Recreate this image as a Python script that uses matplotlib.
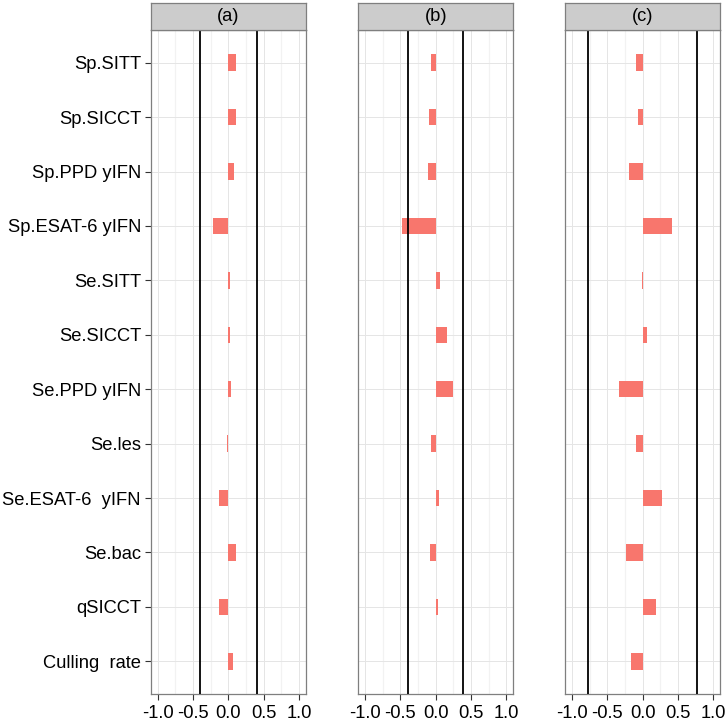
import matplotlib
matplotlib.use('Agg')
import matplotlib.pyplot as plt
import numpy as np

plt.rcParams['font.family'] = ['Liberation Sans', 'DejaVu Sans']
plt.rcParams['axes.unicode_minus'] = False

# parameters, listed from top to bottom
categories = ['Sp.SITT', 'Sp.SICCT', 'Sp.PPD yIFN', 'Sp.ESAT-6 yIFN', 'Se.SITT',
              'Se.SICCT', 'Se.PPD yIFN', 'Se.les', 'Se.ESAT-6  yIFN', 'Se.bac',
              'qSICCT', 'Culling  rate']

panel_names = ['(a)', '(b)', '(c)']

values_a = [0.11, 0.11, 0.075, -0.21, 0.024, 0.028, 0.043, -0.012, -0.135, 0.113, -0.13, 0.061]
values_b = [-0.06, -0.095, -0.11, -0.48, 0.066, 0.156, 0.246, -0.066, 0.047, -0.08, 0.038, 0.0]
values_c = [-0.095, -0.06, -0.19, 0.41, -0.012, 0.066, -0.34, -0.10, 0.274, -0.236, 0.19, -0.17]

# thresholds drawn as vertical black lines in each panel
thresholds = [(-0.40, 0.40), (-0.39, 0.38), (-0.77, 0.77)]

x_ticks = [-1.0, -0.5, 0.0, 0.5, 1.0]
x_minor = [-0.75, -0.25, 0.25, 0.75]

fig_w, fig_h = 728, 725
fig = plt.figure(figsize=(fig_w / 100., fig_h / 100.), dpi=100)

panel_left_px = [150.7, 358.1, 565.1]
panel_width_px = 155.2
panel_top_px = 30.
panel_bottom_px = 694.
strip_top_px = 3.3

font_size = 13.2

all_values = [values_a, values_b, values_c]
y_pos = np.arange(len(categories))

for pdx in range(3):
    left = panel_left_px[pdx] / fig_w
    width = panel_width_px / fig_w
    bottom = (fig_h - panel_bottom_px) / fig_h
    height = (panel_bottom_px - panel_top_px) / fig_h

    ax = fig.add_axes([left, bottom, width, height])
    ax.set_facecolor('white')

    # grid
    for xm in x_minor:
        ax.axvline(xm, color='#F2F2F2', lw=0.9, zorder=0)
    for xt in x_ticks:
        ax.axvline(xt, color='#E5E5E5', lw=0.7, zorder=0)
    for yy in y_pos:
        ax.axhline(yy, color='#E5E5E5', lw=0.7, zorder=0)

    ax.barh(y_pos, all_values[pdx], height=0.3, color='#F8766D', zorder=2)

    for thr in thresholds[pdx]:
        ax.axvline(thr, color='black', lw=1.3, zorder=3)

    ax.set_xlim(-1.1, 1.1)
    ax.set_ylim(len(categories) - 0.4, -0.6)

    ax.set_xticks(x_ticks)
    ax.set_xticklabels(['%.1f' % v for v in x_ticks])
    ax.tick_params(axis='x', length=4, width=0.8, color='#333333', pad=4,
                   labelsize=font_size, labelcolor='black')

    ax.set_yticks(y_pos)
    if pdx == 0:
        ax.set_yticklabels(categories)
        ax.tick_params(axis='y', length=4, width=0.8, color='#333333', pad=3,
                       labelsize=font_size, labelcolor='black')
    else:
        ax.set_yticklabels([])
        ax.tick_params(axis='y', length=0)

    for spine in ax.spines.values():
        spine.set_color('#7F7F7F')
        spine.set_linewidth(0.9)

    # strip
    s_bottom = (fig_h - panel_top_px) / fig_h
    s_height = (panel_top_px - strip_top_px) / fig_h
    sax = fig.add_axes([left, s_bottom, width, s_height])
    sax.set_facecolor('#CCCCCC')
    sax.set_xticks([])
    sax.set_yticks([])
    for spine in sax.spines.values():
        spine.set_color('#7F7F7F')
        spine.set_linewidth(0.9)
    sax.text(0.5, 0.5, panel_names[pdx], ha='center', va='center',
             fontsize=font_size, transform=sax.transAxes)

fig.savefig('out.png', dpi=100)
